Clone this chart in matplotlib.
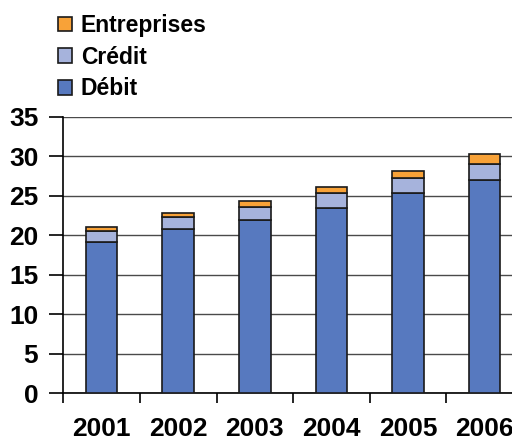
import numpy as np
import matplotlib.pyplot as plt
from matplotlib.ticker import FixedLocator

# data
annees = ["2001", "2002", "2003", "2004", "2005", "2006"]
debit = [19.1, 20.8, 21.9, 23.4, 25.3, 27.0]
credit = [1.4, 1.5, 1.7, 1.9, 2.0, 2.0]
entreprises = [0.5, 0.5, 0.7, 0.8, 0.85, 1.25]

plt.rcParams['font.family'] = ['Liberation Sans', 'DejaVu Sans']
plt.rcParams['font.weight'] = 'bold'

fig = plt.figure(figsize=(5.12, 4.4), dpi=100)
ax = fig.add_axes([63.3 / 512, 1 - 393 / 440, 459.6 / 512, 276 / 440])

x = np.arange(len(annees))
w = 0.41
edge = "#1a1a1a"
b1 = ax.bar(x, debit, w, color="#5779bf", edgecolor=edge, linewidth=1.2, label="Débit", zorder=3)
bottom2 = np.array(debit)
b2 = ax.bar(x, credit, w, bottom=bottom2, color="#a6b3dc", edgecolor=edge, linewidth=1.2, label="Crédit", zorder=3)
bottom3 = bottom2 + np.array(credit)
b3 = ax.bar(x, entreprises, w, bottom=bottom3, color="#f8a238", edgecolor=edge, linewidth=1.2, label="Entreprises", zorder=3)

ax.set_xlim(-0.5, 5.5)
ax.set_ylim(0, 35)
ax.set_yticks(range(0, 36, 5))
ax.yaxis.grid(True, color="#4a4a4a", linewidth=1.0, zorder=0)
ax.set_axisbelow(True)

ax.set_xticks(x)
ax.set_xticklabels(annees)
ax.xaxis.set_minor_locator(FixedLocator(np.arange(-0.5, 6, 1)))
ax.tick_params(axis='x', which='major', length=0, pad=17.5, labelsize=19)
ax.tick_params(axis='x', which='minor', length=7, width=1.2, color="black")
ax.tick_params(axis='y', length=10, width=1.2, pad=8, labelsize=19)

for s in ['top', 'right']:
    ax.spines[s].set_visible(False)
ax.spines['left'].set_linewidth(1.2)
ax.spines['bottom'].set_linewidth(1.2)

fig.legend(handles=[b3, b2, b1], loc='upper left',
           bbox_to_anchor=(58 / 512, 1 - 14 / 440), frameon=False,
           fontsize=16.5, handlelength=0.59, handleheight=0.59,
           handletextpad=0.4, labelspacing=0.38, borderpad=0, borderaxespad=0)

fig.savefig("out.png", dpi=100)
